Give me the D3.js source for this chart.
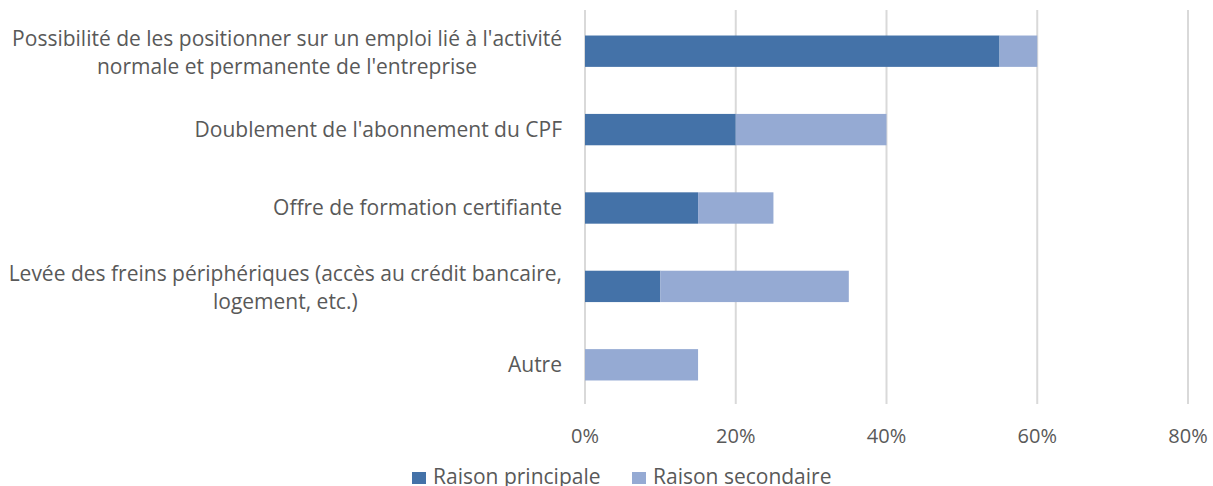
<!DOCTYPE html>
<html lang="fr">
<head>
  <meta charset="UTF-8">
  <title>Raisons</title>
  <script src="https://d3js.org/d3.v7.min.js"></script>
  <style>
    body { margin: 0; background: #fff; font-family: "Open Sans", Lato, sans-serif; }
    svg text { fill: #595959; }
  </style>
</head>
<body>
  <svg id="chart" width="1213" height="486"></svg>
  <script>
    const categories = [
      ["Possibilité de les positionner sur un emploi lié à l'activité", "normale et permanente de l'entreprise"],
      ["Doublement de l'abonnement du CPF"],
      ["Offre de formation certifiante"],
      ["Levée des freins périphériques (accès au crédit bancaire,", "logement, etc.)"],
      ["Autre"]
    ];
    const principale = [55, 20, 15, 10, 0];
    const secondaire = [5, 20, 10, 25, 15];
    const seriesNames = ["Raison principale", "Raison secondaire"];
    const colors = ["#4472a8", "#95aad3"];
    const ticks = [0, 20, 40, 60, 80];

    const svg = d3.select("#chart");
    const plotLeft = 585, plotRight = 1188, plotTop = 12, plotBottom = 404;
    const labelRight = 562;

    const x = d3.scaleLinear().domain([0, 80]).range([plotLeft, plotRight]);
    const y = d3.scaleBand().domain(d3.range(categories.length)).range([plotTop, plotBottom]).paddingInner(0.6).paddingOuter(0.3);

    // grid
    svg.append("g").selectAll("line").data(ticks).enter().append("line")
      .attr("x1", d => x(d)).attr("x2", d => x(d))
      .attr("y1", 10).attr("y2", plotBottom)
      .attr("stroke", "#d9d9d9").attr("stroke-width", 2);

    const rows = categories.map((c, i) => ({ i, p: principale[i], s: secondaire[i] }));

    svg.append("g").selectAll("rect").data(rows).enter().append("rect")
      .attr("x", d => x(0)).attr("y", d => y(d.i))
      .attr("width", d => x(d.p) - x(0)).attr("height", y.bandwidth())
      .attr("fill", colors[0]);

    svg.append("g").selectAll("rect").data(rows).enter().append("rect")
      .attr("x", d => x(d.p)).attr("y", d => y(d.i))
      .attr("width", d => x(d.p + d.s) - x(d.p)).attr("height", y.bandwidth())
      .attr("fill", colors[1]);

    // category labels: block right-aligned, lines centred within the block
    const lab = svg.append("g").selectAll("text").data(categories).enter().append("text")
      .attr("text-anchor", "middle")
      .style("font-size", "21px")
      .attr("transform", (d, i) => "translate(0," + (y(i) + y.bandwidth() / 2) + ")");
    lab.selectAll("tspan").data(d => d.map((t, k) => ({ t, k, n: d.length }))).enter().append("tspan")
      .attr("y", d => (d.k - (d.n - 1) / 2) * 28 + (d.n > 1 ? 2 : 0))
      .attr("dy", "0.33em")
      .text(d => d.t);
    lab.each(function() {
      const spans = d3.select(this).selectAll("tspan");
      const w = d3.max(spans.nodes(), n => n.getComputedTextLength());
      spans.attr("x", labelRight - w / 2);
    });

    // tick labels
    svg.append("g").selectAll("text").data(ticks).enter().append("text")
      .attr("x", d => x(d)).attr("y", 443)
      .attr("text-anchor", "middle")
      .style("font-size", "20px")
      .text(d => d + "%");

    // legend
    const legX = [412, 632];
    const leg = svg.append("g").selectAll("g").data(seriesNames).enter().append("g")
      .attr("transform", (d, i) => "translate(" + legX[i] + ",484)");
    leg.append("rect").attr("x", 0).attr("y", -12).attr("width", 14).attr("height", 12)
      .attr("fill", (d, i) => colors[i]);
    leg.append("text").attr("x", 21)
      .style("font-size", "21px")
      .text(d => d);
  </script>
</body>
</html>
